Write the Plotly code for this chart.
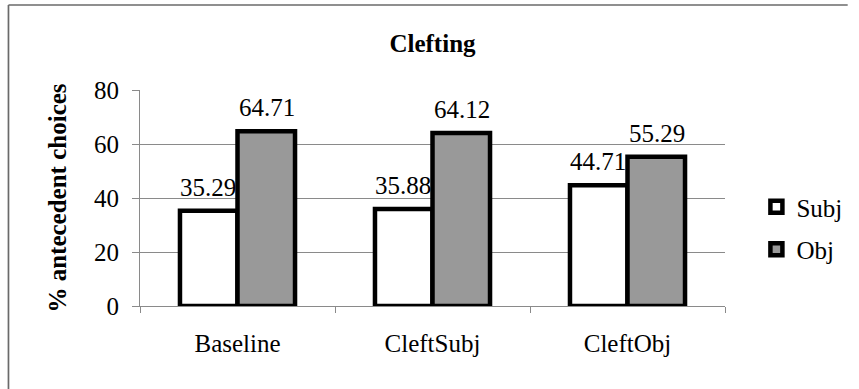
import plotly.graph_objects as go

# Chart data
conditions = ["Baseline", "CleftSubj", "CleftObj"]
subj_values = [35.29, 35.88, 44.71]
obj_values = [64.71, 64.12, 55.29]
y_ticks = [0, 20, 40, 60, 80]

FONT = "Liberation Serif"
W, H = 859, 389
L, R, T, B = 140, 123, 90, 83
plot_w = W - L - R
plot_h = H - T - B
BARGAP = 0.41


def px_to_paper_x(px):
    return (px - L) / plot_w


def px_to_paper_y(py):
    return (H - B - py) / plot_h


fig = go.Figure()
fig.add_trace(go.Bar(
    name="Subj", x=conditions, y=subj_values,
    marker=dict(color="white", line=dict(color="black", width=4.5)),
    legendgroup="subj",
))
fig.add_trace(go.Bar(
    name="Obj", x=conditions, y=obj_values,
    marker=dict(color="#999999", line=dict(color="black", width=4.5)),
    legendgroup="obj",
))

# Value labels above each bar
bar_px = plot_w / len(conditions) * (1 - BARGAP) / 2
for values, side in ((subj_values, -1), (obj_values, 1)):
    for cat, v in zip(conditions, values):
        fig.add_annotation(
            x=cat, y=v, xref="x", yref="y", text=f"{v:.2f}",
            showarrow=False, xanchor="center", yanchor="bottom",
            xshift=side * bar_px / 2, yshift=8,
            font=dict(family=FONT, size=25, color="black"),
        )

# Outer frame (left and top edges)
frame_color = "#6a6a6a"
x_left = px_to_paper_x(6)
y_top = px_to_paper_y(5)
fig.add_shape(type="line", xref="paper", yref="paper",
              x0=x_left, x1=px_to_paper_x(W + 2), y0=y_top, y1=y_top,
              line=dict(color=frame_color, width=1.7))
fig.add_shape(type="line", xref="paper", yref="paper",
              x0=x_left, x1=x_left, y0=y_top, y1=px_to_paper_y(H + 2),
              line=dict(color=frame_color, width=1.7))

fig.update_layout(
    width=W, height=H,
    margin=dict(l=L, r=R, t=T, b=B),
    paper_bgcolor="white", plot_bgcolor="white",
    barmode="group", bargap=BARGAP, bargroupgap=0,
    font=dict(family=FONT, size=25, color="black"),
    title=dict(text="<b>Clefting</b>", x=0.5, xref="paper",
               y=1 - 43 / H, yref="container", yanchor="middle",
               font=dict(family=FONT, size=25, color="black")),
    legend=dict(x=px_to_paper_x(768), xanchor="left",
                y=px_to_paper_y(228), yanchor="middle",
                font=dict(family=FONT, size=25, color="black"),
                tracegroupgap=7, bgcolor="rgba(0,0,0,0)"),
    showlegend=True,
)

fig.update_xaxes(
    showline=True, linecolor="#8a8a8a", linewidth=1,
    ticks="outside", tickson="boundaries", ticklen=6, tickcolor="#8a8a8a",
    ticklabelstandoff=15,
    tickfont=dict(family=FONT, size=25, color="black"),
    showgrid=False,
)
fig.update_yaxes(
    range=[0, 80], tickvals=y_ticks,
    showline=True, linecolor="#8a8a8a", linewidth=1,
    ticks="outside", ticklen=7, tickcolor="#8a8a8a",
    ticklabelstandoff=8,
    showgrid=True, gridcolor="#8a8a8a", gridwidth=1,
    zeroline=False,
    tickfont=dict(family=FONT, size=25, color="black"),
    title=dict(text="<b>% antecedent choices</b>", standoff=20,
               font=dict(family=FONT, size=25, color="black")),
)

fig.write_html("out.html")
